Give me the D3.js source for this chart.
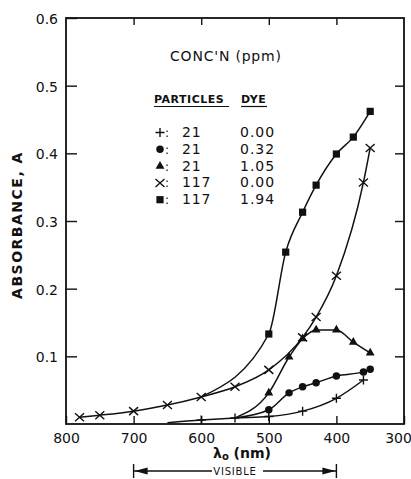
<!DOCTYPE html>
<html lang="en">
  <head>
    <meta charset="utf-8"/>
    <title>Absorbance vs wavelength</title>
    <script src="https://cdn.jsdelivr.net/npm/d3@7"></script>
    <style>
      body { margin: 0; background: #fff; }
      text { font-family: "DejaVu Sans", sans-serif; fill: #111; }
    </style>
  </head>
  <body>
    <div id="chart"></div>
    <script>

      // wavelength (nm) / absorbance, one pair of arrays per sample
      var lambdaPlus = [600, 550, 500, 450, 400, 360];
      var absPlus    = [0.006, 0.009, 0.011, 0.019, 0.038, 0.065];

      var lambdaDot = [500, 470, 450, 430, 400, 360, 350];
      var absDot    = [0.021, 0.046, 0.055, 0.061, 0.071, 0.077, 0.081];

      var lambdaTri = [500, 470, 450, 430, 400, 375, 350];
      var absTri    = [0.046, 0.099, 0.126, 0.139, 0.139, 0.121, 0.105];

      var lambdaCross = [780, 750, 700, 650, 600, 550, 500, 450, 430, 400, 360, 350];
      var absCross    = [0.010, 0.013, 0.019, 0.028, 0.040, 0.055, 0.080, 0.128, 0.158, 0.219, 0.357, 0.408];

      var lambdaSquare = [500, 475, 450, 430, 400, 375, 350];
      var absSquare    = [0.133, 0.254, 0.313, 0.353, 0.399, 0.424, 0.462];

      // unmarked points where a curve branches off another one
      var branchPlus   = [650, 0.002];
      var branchDot    = [550, 0.009];
      var branchTri    = [550, 0.009];
      var branchSquare = [600, 0.040];

      // legend table: concentrations (ppm)
      var legendParticles = ["21", "21", "21", "117", "117"];
      var legendDye = ["0.00", "0.32", "1.05", "0.00", "1.94"];

      var xTicks = [800, 700, 600, 500, 400, 300];
      var yTicks = [0.1, 0.2, 0.3, 0.4, 0.5, 0.6];
      var visibleRange = [700, 400];

      var W = 411, H = 479;
      var padL = 66, padR = 404, padT = 18, padB = 424;

      var x = d3.scaleLinear().domain([800, 300]).range([padL, padR]);
      var y = d3.scaleLinear().domain([0, 0.6]).range([padB, padT]);

      var svg = d3.select("#chart").append("svg")
        .attr("width", W)
        .attr("height", H)
        .style("display", "block");

      svg.append("rect").attr("width", W).attr("height", H).attr("fill", "#fff");

      // axes, ticks pointing inwards
      var yAxis = svg.append("g")
        .attr("transform", "translate(" + padL + ",0)")
        .call(d3.axisLeft(y).tickValues(yTicks).tickSize(-11).tickPadding(8).tickFormat(d3.format(".1f")));
      var xAxis = svg.append("g")
        .attr("transform", "translate(0," + padB + ")")
        .call(d3.axisBottom(x).tickValues(xTicks).tickSize(-8).tickPadding(8).tickFormat(d3.format("d")));
      svg.append("g")
        .attr("transform", "translate(0," + padT + ")")
        .call(d3.axisTop(x).tickValues([700, 600, 500, 400]).tickSize(-7).tickFormat(""));
      svg.append("g")
        .attr("transform", "translate(" + padR + ",0)")
        .call(d3.axisRight(y).tickValues([0.1, 0.2, 0.3, 0.4, 0.5]).tickSize(-9).tickFormat(""));

      svg.selectAll(".domain").remove();
      svg.selectAll(".tick line").attr("stroke", "#111").attr("stroke-width", 1.4);
      svg.selectAll(".tick text")
        .style("font-family", "DejaVu Sans")
        .style("font-size", "14px")
        .attr("fill", "#111");
      yAxis.selectAll(".tick text").attr("dy", "0.4em");
      xAxis.selectAll(".tick text").attr("dy", "0.75em");
      // the last label sits a little inside the page edge in the original
      xAxis.selectAll(".tick text").filter(function(d) { return d === 300; }).attr("dx", -6);

      // frame
      svg.append("rect")
        .attr("x", padL).attr("y", padT)
        .attr("width", padR - padL).attr("height", padB - padT)
        .attr("fill", "none")
        .attr("stroke", "#111")
        .attr("stroke-width", 1.8);

      // axis titles
      svg.append("text")
        .attr("transform", "translate(22," + ((padT + padB) / 2 + 4) + ")rotate(-90)")
        .attr("text-anchor", "middle")
        .style("font-size", "14px")
        .style("font-weight", "bold")
        .style("letter-spacing", "1.5px")
        .text("ABSORBANCE, A");

      var xt = svg.append("text")
        .attr("x", 242).attr("y", 458)
        .attr("text-anchor", "middle")
        .style("font-size", "14px")
        .style("font-weight", "bold");
      xt.append("tspan").text("λ");
      xt.append("tspan").attr("dy", 2).style("font-size", "10px").text("o");
      xt.append("tspan").attr("dy", -2).text(" (nm)");

      // visible band marker
      var vx0 = x(visibleRange[0]), vx1 = x(visibleRange[1]), vy = 471;
      var vis = svg.append("g").attr("stroke", "#111").attr("stroke-width", 1.4);
      vis.append("line").attr("x1", vx0).attr("x2", vx0).attr("y1", vy - 7).attr("y2", vy + 7);
      vis.append("line").attr("x1", vx1).attr("x2", vx1).attr("y1", vy - 7).attr("y2", vy + 7);
      vis.append("line").attr("x1", vx0).attr("x2", 212).attr("y1", vy).attr("y2", vy);
      vis.append("line").attr("x1", 263).attr("x2", vx1).attr("y1", vy).attr("y2", vy);
      svg.append("path")
        .attr("d", "M" + (vx0 + 1) + "," + vy + "l13,-3.5v7z")
        .attr("fill", "#111");
      svg.append("path")
        .attr("d", "M" + (vx1 - 1) + "," + vy + "l-13,-3.5v7z")
        .attr("fill", "#111");
      svg.append("text")
        .attr("x", (vx0 + vx1) / 2).attr("y", vy + 4)
        .attr("text-anchor", "middle")
        .style("font-size", "10px")
        .style("letter-spacing", "0.8px")
        .text("VISIBLE");

      // curves
      var line = d3.line()
        .x(function(d) { return x(d[0]); })
        .y(function(d) { return y(d[1]); })
        .curve(d3.curveMonotoneX);

      function pairs(lam, ab) {
        return lam.map(function(l, i) { return [l, ab[i]]; });
      }

      // marker painters; each draws at (cx, cy)
      function drawPlus(g, cx, cy) {
        g.append("path")
          .attr("d", "M" + (cx - 4.5) + "," + cy + "h9M" + cx + "," + (cy - 4.5) + "v9")
          .attr("stroke", "#111").attr("stroke-width", 1.4).attr("fill", "none");
      }
      function drawCross(g, cx, cy) {
        g.append("path")
          .attr("d", "M" + (cx - 4.5) + "," + (cy - 4) + "l9,8M" + (cx - 4.5) + "," + (cy + 4) + "l9,-8")
          .attr("stroke", "#111").attr("stroke-width", 1.4).attr("fill", "none");
      }
      function filled(type, size) {
        return function(g, cx, cy) {
          g.append("path")
            .attr("d", d3.symbol().type(type).size(size)())
            .attr("transform", "translate(" + cx + "," + cy + ")")
            .attr("fill", "#111");
        };
      }
      var drawDot = filled(d3.symbolCircle, 44);
      var drawTri = filled(d3.symbolTriangle, 34);
      var drawSquare = filled(d3.symbolSquare, 52);

      var series = [
        { pts: pairs(lambdaPlus, absPlus), branch: branchPlus, mark: drawPlus },
        { pts: pairs(lambdaDot, absDot), branch: branchDot, mark: drawDot },
        { pts: pairs(lambdaTri, absTri), branch: branchTri, mark: drawTri },
        { pts: pairs(lambdaCross, absCross), branch: null, mark: drawCross },
        { pts: pairs(lambdaSquare, absSquare), branch: branchSquare, mark: drawSquare }
      ];

      var plot = svg.append("g");
      series.forEach(function(s) {
        var all = s.branch ? [s.branch].concat(s.pts) : s.pts;
        plot.append("path")
          .attr("d", line(all))
          .attr("fill", "none")
          .attr("stroke", "#111")
          .attr("stroke-width", 1.5);
      });
      series.forEach(function(s) {
        s.pts.forEach(function(p) {
          s.mark(plot, x(p[0]), y(p[1]));
        });
      });

      // legend
      var lg = svg.append("g");
      lg.append("text")
        .attr("x", 170).attr("y", 61)
        .style("font-size", "14px")
        .style("letter-spacing", "0.8px")
        .text("CONC'N (ppm)");
      lg.append("text")
        .attr("x", 154).attr("y", 103)
        .style("font-size", "11px")
        .style("font-weight", "bold")
        .style("letter-spacing", "0.5px")
        .text("PARTICLES");
      lg.append("text")
        .attr("x", 241).attr("y", 103)
        .style("font-size", "11px")
        .style("font-weight", "bold")
        .style("letter-spacing", "0.5px")
        .text("DYE");
      lg.append("line").attr("x1", 154).attr("x2", 229).attr("y1", 106.5).attr("y2", 106.5)
        .attr("stroke", "#111").attr("stroke-width", 1.2);
      lg.append("line").attr("x1", 241).attr("x2", 267).attr("y1", 106.5).attr("y2", 106.5)
        .attr("stroke", "#111").attr("stroke-width", 1.2);

      series.forEach(function(s, i) {
        var by = 137 + i * 16.8;
        s.mark(lg, 160, by - 4.5);
        lg.append("text").attr("x", 165).attr("y", by).style("font-size", "12px").text(":");
        lg.append("text").attr("x", 182).attr("y", by).style("font-size", "14px").style("letter-spacing", "0.8px").text(legendParticles[i]);
        lg.append("text").attr("x", 240).attr("y", by).style("font-size", "14px").style("letter-spacing", "1px").text(legendDye[i]);
      });
    </script>
  </body>
</html>
